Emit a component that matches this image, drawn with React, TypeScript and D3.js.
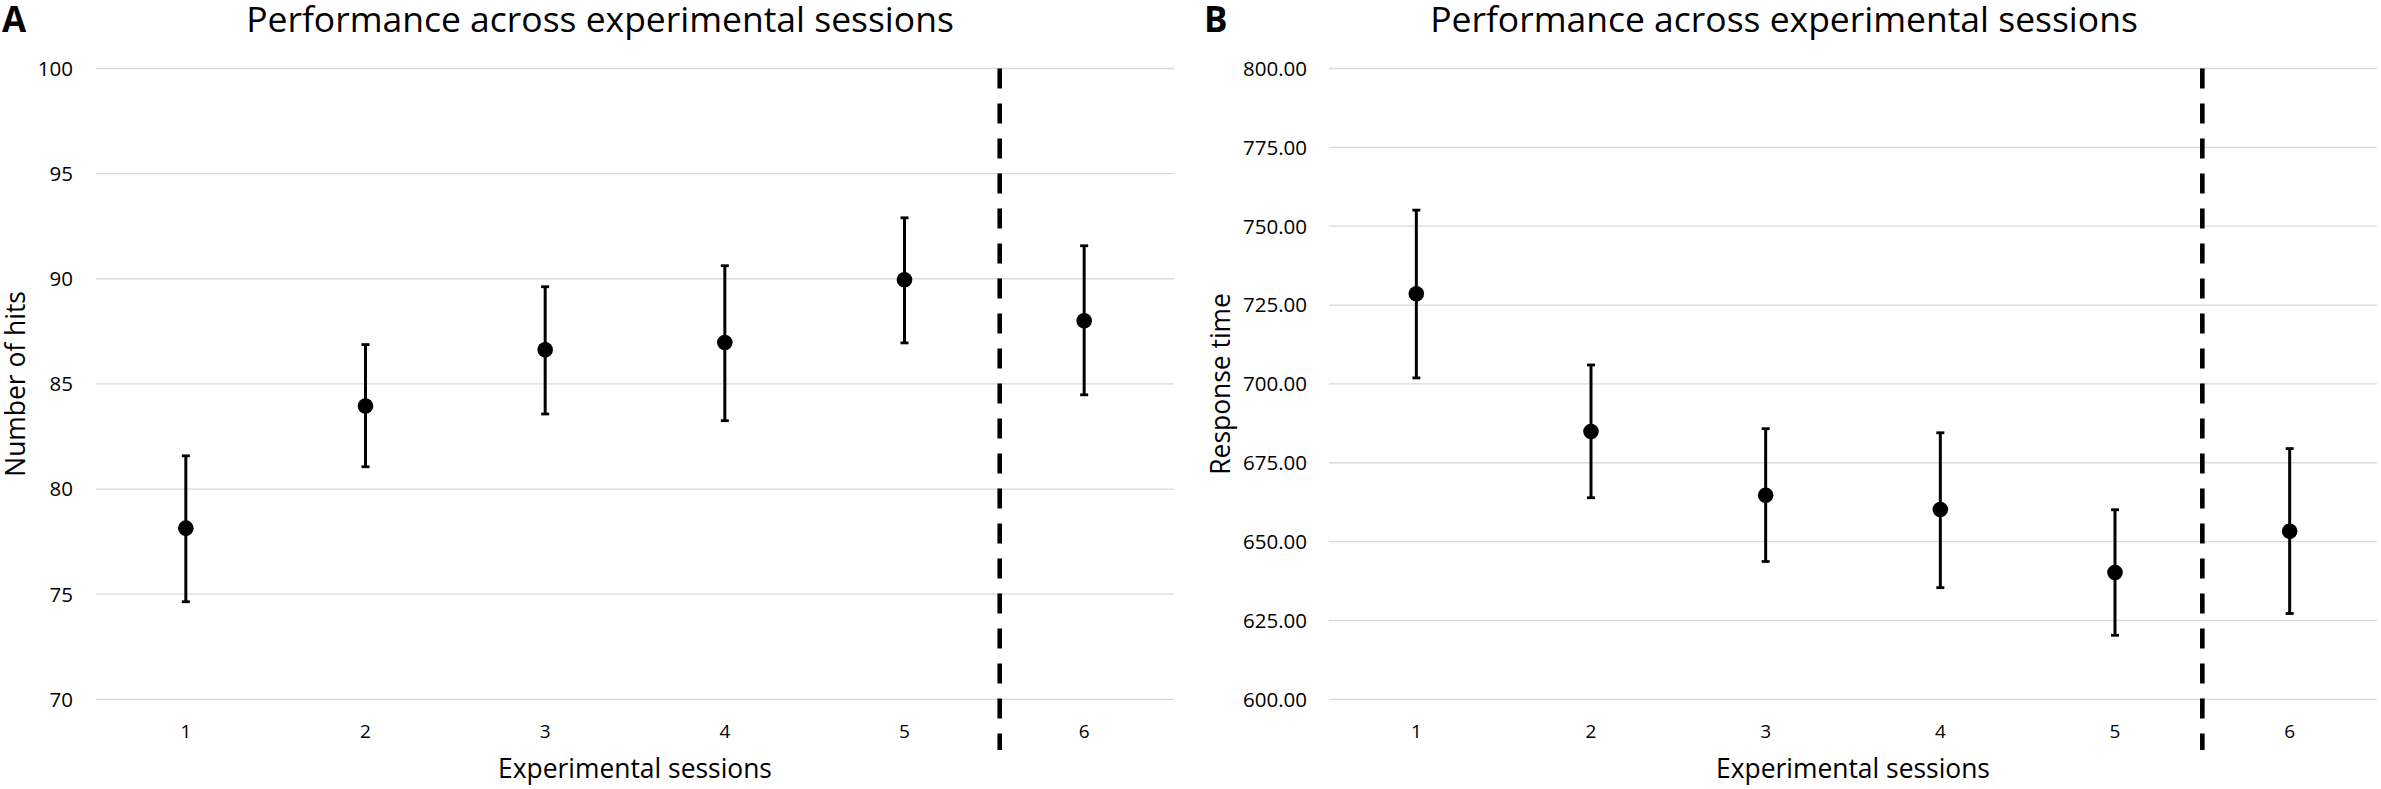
import React, { useEffect, useRef } from 'react';
import * as d3 from 'd3';

// values
const sessions = [1, 2, 3, 4, 5, 6];
const hitsMean = [78.14, 83.95, 86.62, 86.97, 89.95, 88.0];
const hitsUpper = [81.58, 86.87, 89.62, 90.62, 92.9, 91.57];
const hitsLower = [74.64, 81.06, 83.57, 83.25, 86.95, 84.48];
const hitsTicks = [70, 75, 80, 85, 90, 95, 100];

const rtMean = [728.6, 684.9, 664.7, 660.2, 640.2, 653.3];
const rtUpper = [755.1, 706.0, 685.8, 684.5, 660.1, 679.5];
const rtLower = [701.9, 663.9, 643.7, 635.4, 620.3, 627.2];
const rtTicks = [600, 625, 650, 675, 700, 725, 750, 775, 800];

const chartTitle = 'Performance across experimental sessions';
const xTitle = 'Experimental sessions';

const FONT = '"Open Sans", "Noto Sans", sans-serif';

const App: React.FC = () => {
  const ref = useRef<SVGSVGElement | null>(null);

  useEffect(() => {
    document.body.style.margin = '0';
    const width = 2381;
    const height = 789;
    const top = 68.5;
    const bottom = 699.3;

    const svg = d3.select(ref.current)
      .attr('width', width)
      .attr('height', height)
      .style('font-family', FONT);
    svg.selectAll('*').remove();
    svg.append('rect').attr('width', width).attr('height', height).attr('fill', 'white');

    // shrink/grow font so text hits a measured width
    const fit = (t: any, target: number, start: number) => {
      t.attr('font-size', start);
      const w = (t.node() as SVGTextElement).getComputedTextLength();
      const size = start * target / w;
      t.attr('font-size', size);
      return size;
    };

    const panels = [
      {
        label: 'A', left: 96, right: 1174, domain: [70, 100], ticks: hitsTicks, fmt: d3.format('d'),
        mean: hitsMean, upper: hitsUpper, lower: hitsLower, divider: 5.53,
        yTitle: 'Number of hits', yTitleX: 16, labelX: 2, titleCx: 600, tickRight: 73,
      },
      {
        label: 'B', left: 1329, right: 2377, domain: [600, 800], ticks: rtTicks, fmt: d3.format('.2f'),
        mean: rtMean, upper: rtUpper, lower: rtLower, divider: 5.5,
        yTitle: 'Response time', yTitleX: 1221, labelX: 1204, titleCx: 1784, tickRight: 1307,
      },
    ];

    panels.forEach(p => {
      const g = svg.append('g');
      const x = d3.scaleLinear().domain([0.5, 6.5]).range([p.left, p.right]);
      const y = d3.scaleLinear().domain(p.domain).range([bottom, top]);

      // horizontal grid
      g.append('g')
        .selectAll('line')
        .data(p.ticks)
        .enter()
        .append('line')
        .attr('x1', p.left)
        .attr('x2', p.right)
        .attr('y1', (d: any) => y(d))
        .attr('y2', (d: any) => y(d))
        .attr('stroke', '#d9d9d9')
        .attr('stroke-width', 1.3);

      // y tick labels
      g.append('g')
        .selectAll('text')
        .data(p.ticks)
        .enter()
        .append('text')
        .attr('x', p.tickRight)
        .attr('y', (d: any) => y(d))
        .attr('dy', '0.36em')
        .attr('text-anchor', 'end')
        .attr('font-size', 20.5)
        .attr('fill', '#000')
        .text((d: any) => p.fmt(d));

      // x tick labels
      g.append('g')
        .selectAll('text')
        .data(sessions)
        .enter()
        .append('text')
        .attr('x', (d: any) => x(d))
        .attr('y', 738)
        .attr('text-anchor', 'middle')
        .attr('font-size', 19)
        .attr('fill', '#000')
        .text((d: any) => String(d));

      // dashed divider
      g.append('line')
        .attr('x1', x(p.divider))
        .attr('x2', x(p.divider))
        .attr('y1', top)
        .attr('y2', 750)
        .attr('stroke', '#000')
        .attr('stroke-width', 4.6)
        .attr('stroke-dasharray', '20 15');

      // error bars
      const bars = g.append('g')
        .selectAll('g')
        .data(sessions.map((s, i) => ({ s, m: p.mean[i], hi: p.upper[i], lo: p.lower[i] })))
        .enter()
        .append('g');
      bars.append('line')
        .attr('x1', (d: any) => x(d.s))
        .attr('x2', (d: any) => x(d.s))
        .attr('y1', (d: any) => y(d.hi))
        .attr('y2', (d: any) => y(d.lo))
        .attr('stroke', '#000')
        .attr('stroke-width', 3);
      ['hi', 'lo'].forEach(k => {
        bars.append('line')
          .attr('x1', (d: any) => x(d.s) - 4)
          .attr('x2', (d: any) => x(d.s) + 4)
          .attr('y1', (d: any) => y(d[k]))
          .attr('y2', (d: any) => y(d[k]))
          .attr('stroke', '#000')
          .attr('stroke-width', 2.8);
      });
      bars.append('circle')
        .attr('cx', (d: any) => x(d.s))
        .attr('cy', (d: any) => y(d.m))
        .attr('r', 7.8)
        .attr('fill', '#000');

      // titles
      const t = g.append('text')
        .attr('x', p.titleCx)
        .attr('y', 31.5)
        .attr('text-anchor', 'middle')
        .attr('fill', '#000')
        .text(chartTitle);
      fit(t, 708, 34);

      const xt = g.append('text')
        .attr('x', (p.left + p.right) / 2)
        .attr('y', 778)
        .attr('text-anchor', 'middle')
        .attr('fill', '#000')
        .text(xTitle);
      const axisSize = fit(xt, 274, 25);

      g.append('text')
        .attr('transform', `translate(${p.yTitleX},${(top + bottom) / 2}) rotate(-90)`)
        .attr('dy', '0.35em')
        .attr('text-anchor', 'middle')
        .attr('font-size', axisSize)
        .attr('fill', '#000')
        .text(p.yTitle);

      g.append('text')
        .attr('x', p.labelX)
        .attr('y', 32)
        .attr('font-size', 35)
        .attr('font-weight', 'bold')
        .attr('fill', '#000')
        .text(p.label);
    });
  }, []);

  return <svg ref={ref}></svg>;
};

export default App;
